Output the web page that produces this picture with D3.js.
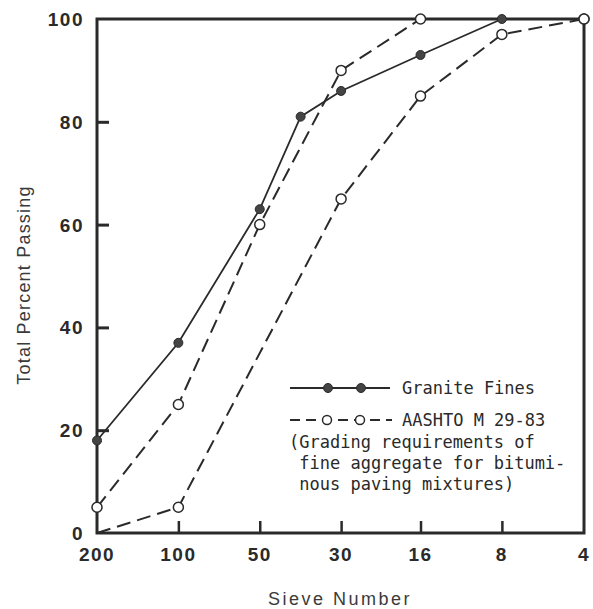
<!DOCTYPE html>
<html><head><meta charset="utf-8">
<script src="https://cdn.jsdelivr.net/npm/d3@7/dist/d3.min.js"></script>
<style>body{margin:0;background:#fff}</style>
</head><body><svg id="c" width="593" height="609"></svg>
<script>
// Sieve tick labels and their openings (mm)
const sieveLabels = ["200","100","50","30","16","8","4"];
const sieveOpenings = [0.075,0.15,0.3,0.6,1.18,2.36,4.75];
const yTicks = [0,20,40,60,80,100];

// Granite Fines
const graniteSizes = [0.075,0.15,0.3,0.425,0.6,1.18,2.36];
const graniteValues = [18,37,63,81,86,93,100];

// AASHTO M 29-83 upper limit
const upperSizes = [0.075,0.15,0.3,0.6,1.18,4.75];
const upperValues = [5,25,60,90,100,100];
const upperMarked = [true,true,true,true,true,true];

// AASHTO M 29-83 lower limit
const lowerSizes = [0.075,0.15,0.6,1.18,2.36,4.75];
const lowerValues = [0,5,65,85,97,100];
const lowerMarked = [false,true,true,true,true,true];

const legendLines = ["(Grading requirements of"," fine aggregate for bitumi-"," nous paving mixtures)"];

const ink = "#2a2a2a";
const sans = "Liberation Sans, Arial, sans-serif";
const svg = d3.select("#c");
const x = d3.scaleLog().domain([0.075,4.75]).range([97,584]);
const y = d3.scaleLinear().domain([0,100]).range([533,19]);

// lines
const line = d3.line().x(d=>x(d[0])).y(d=>y(d[1]));
const zip = (a,b)=>a.map((v,i)=>[v,b[i]]);
const dash = "14,7";

svg.append("path").attr("d", line(zip(lowerSizes,lowerValues)))
  .attr("fill","none").attr("stroke",ink).attr("stroke-width",2).attr("stroke-dasharray",dash);
svg.append("path").attr("d", line(zip(upperSizes,upperValues)))
  .attr("fill","none").attr("stroke",ink).attr("stroke-width",2).attr("stroke-dasharray",dash);
svg.append("path").attr("d", line(zip(graniteSizes,graniteValues)))
  .attr("fill","none").attr("stroke",ink).attr("stroke-width",1.8);

// frame
const [x0,x1] = x.range(), [yb,yt] = y.range();
svg.append("rect").attr("x",x0).attr("y",yt).attr("width",x1-x0).attr("height",yb-yt)
  .attr("fill","none").attr("stroke",ink).attr("stroke-width",3);

// axes ticks (inward)
const yAxis = d3.axisRight(y).tickValues(yTicks).tickSize(12).tickFormat("");
const gy = svg.append("g").attr("transform",`translate(${x0},0)`).call(yAxis);
gy.select(".domain").remove();
gy.selectAll("line").attr("stroke",ink).attr("stroke-width",3);
gy.selectAll(".tick").filter(d=>d===0||d===100).remove();

const xAxis = d3.axisTop(x).tickValues(sieveOpenings).tickSize(12).tickFormat("");
const gx = svg.append("g").attr("transform",`translate(0,${yb})`).call(xAxis);
gx.select(".domain").remove();
gx.selectAll("line").attr("stroke",ink).attr("stroke-width",2.5);
gx.selectAll(".tick").filter(d=>d===0.075||d===4.75).remove();

// tick labels
svg.append("g").selectAll("text").data(yTicks).join("text")
  .attr("x",84).attr("y",d=>y(d)+7).attr("text-anchor","end")
  .attr("font-family",sans).attr("font-weight","bold").attr("letter-spacing",1.5)
  .attr("font-size",19).attr("fill",ink).text(d=>d);
svg.append("g").selectAll("text").data(sieveOpenings).join("text")
  .attr("x",d=>x(d)).attr("y",561).attr("text-anchor","middle")
  .attr("font-family",sans).attr("font-weight","bold").attr("letter-spacing",1.5)
  .attr("font-size",19).attr("fill",ink).text((d,i)=>sieveLabels[i]);

// axis titles
svg.append("text").attr("transform","translate(30,285) rotate(-90)").attr("text-anchor","middle")
  .attr("font-family",sans).attr("font-size",18).attr("fill","#3a3a3a").attr("letter-spacing",1.2)
  .text("Total Percent Passing");
svg.append("text").attr("x",340).attr("y",605).attr("text-anchor","middle")
  .attr("font-family",sans).attr("font-size",18).attr("fill","#3a3a3a").attr("letter-spacing",2.5)
  .text("Sieve Number");

// markers
svg.append("g").selectAll("circle").data(zip(lowerSizes,lowerValues).filter((d,i)=>lowerMarked[i])).join("circle")
  .attr("cx",d=>x(d[0])).attr("cy",d=>y(d[1])).attr("r",5)
  .attr("fill","#fff").attr("stroke",ink).attr("stroke-width",1.5);
svg.append("g").selectAll("circle").data(zip(upperSizes,upperValues).filter((d,i)=>upperMarked[i])).join("circle")
  .attr("cx",d=>x(d[0])).attr("cy",d=>y(d[1])).attr("r",5)
  .attr("fill","#fff").attr("stroke",ink).attr("stroke-width",1.5);
svg.append("g").selectAll("circle").data(zip(graniteSizes,graniteValues)).join("circle")
  .attr("cx",d=>x(d[0])).attr("cy",d=>y(d[1])).attr("r",4.5)
  .attr("fill","#444").attr("stroke",ink).attr("stroke-width",1);

// legend
const lg = svg.append("g");
const mono = "DejaVu Sans Mono, Liberation Mono, monospace";
lg.append("line").attr("x1",290).attr("x2",390).attr("y1",388).attr("y2",388)
  .attr("stroke",ink).attr("stroke-width",1.8);
[328,361].forEach(cx=>lg.append("circle").attr("cx",cx).attr("cy",388).attr("r",4.5).attr("fill","#444").attr("stroke",ink));
lg.append("line").attr("x1",290).attr("x2",392).attr("y1",420).attr("y2",420)
  .attr("stroke",ink).attr("stroke-width",1.8).attr("stroke-dasharray","10,6");
[327,360].forEach(cx=>lg.append("circle").attr("cx",cx).attr("cy",420).attr("r",4.5).attr("fill","#fff").attr("stroke",ink).attr("stroke-width",1.5));
lg.append("text").attr("x",402).attr("y",394).attr("font-family",mono).attr("font-size",17).attr("fill",ink).text("Granite Fines");
lg.append("text").attr("x",402).attr("y",426).attr("font-family",mono).attr("font-size",17).attr("fill",ink).text("AASHTO M 29-83");
legendLines.forEach((t,i)=>lg.append("text").attr("x",289).attr("y",448+i*21)
  .attr("font-family",mono).attr("font-size",17).attr("fill",ink).attr("xml:space","preserve")
  .style("white-space","pre").text(t));
</script></body></html>
